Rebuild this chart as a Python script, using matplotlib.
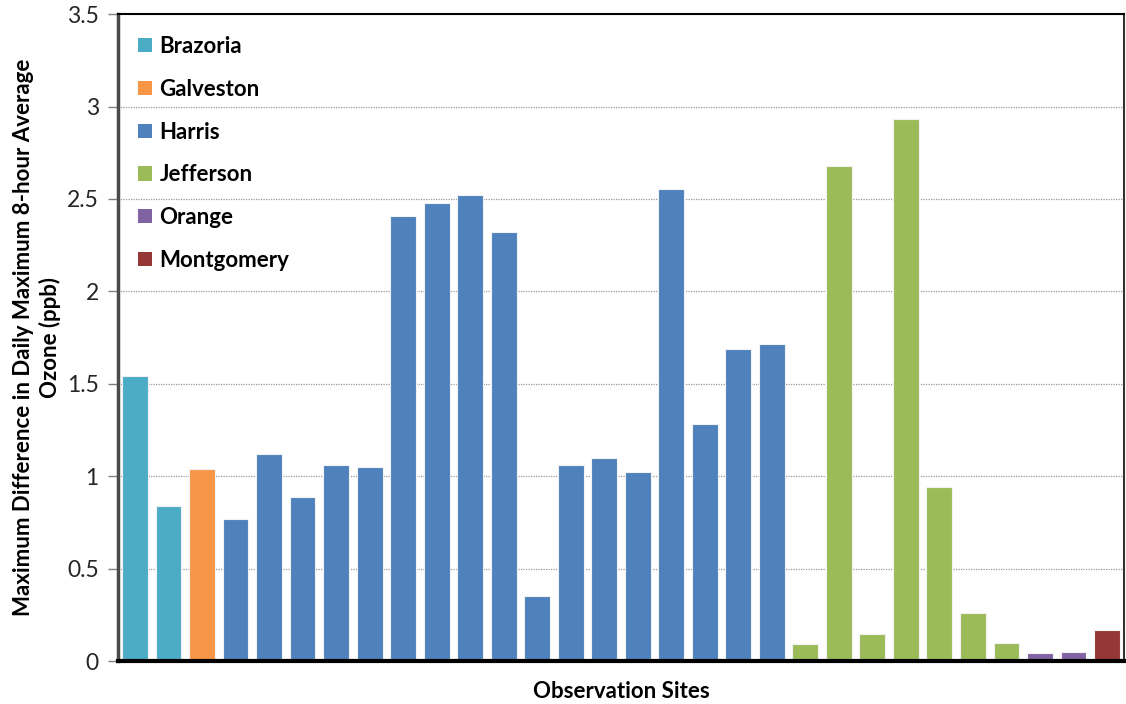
import matplotlib
matplotlib.use("Agg")
import matplotlib.pyplot as plt
from matplotlib.patches import Patch

# Maximum difference in daily maximum 8-hour average ozone (ppb) per site, grouped by county
counties = ["Brazoria", "Galveston", "Harris", "Jefferson", "Orange", "Montgomery"]
brazoria = [1.54, 0.84]
galveston = [1.04]
harris = [0.77, 1.12, 0.89, 1.06, 1.05, 2.41, 2.48, 2.52, 2.32, 0.35,
          1.06, 1.10, 1.025, 2.555, 1.28, 1.69, 1.715]
jefferson = [0.09, 2.68, 0.145, 2.935, 0.94, 0.262, 0.096]
orange = [0.042, 0.048]
montgomery = [0.17]
yticks = [0, 0.5, 1, 1.5, 2, 2.5, 3, 3.5]
ytick_labels = ["0", "0.5", "1", "1.5", "2", "2.5", "3", "3.5"]

colors = {
    "Brazoria": "#4BACC6",
    "Galveston": "#F79646",
    "Harris": "#4F81BD",
    "Jefferson": "#9BBB59",
    "Orange": "#8064A2",
    "Montgomery": "#953735",
}
groups = [brazoria, galveston, harris, jefferson, orange, montgomery]

plt.rcParams["font.family"] = ["Lato", "DejaVu Sans"]

fig = plt.figure(figsize=(11.26, 7.04), dpi=100)
ax = fig.add_axes([0.105, 0.061, 0.893, 0.919])

pos = 0
for name, vals in zip(counties, groups):
    xs = list(range(pos, pos + len(vals)))
    ax.bar(xs, vals, width=0.77, color=colors[name], edgecolor="#F2F2F2",
           linewidth=0.8, zorder=2)
    pos += len(vals)

ax.set_xlim(-0.5, pos - 0.5)
ax.set_ylim(0, 3.5)
ax.set_yticks(yticks)
ax.set_yticklabels(ytick_labels)
ax.set_xticks([])
ax.tick_params(axis="y", direction="out", length=7, width=1, color="#808080",
               labelsize=16.5, labelcolor="#262626", pad=7)

for y in yticks[1:-1]:
    ax.axhline(y, color="#9A9A9A", linestyle=(0, (1, 1)), linewidth=0.9, zorder=1)

ax.spines["left"].set_color("#4A4A4A")
ax.spines["left"].set_linewidth(2.5)
ax.spines["bottom"].set_color("black")
ax.spines["bottom"].set_linewidth(3)
ax.spines["bottom"].set_zorder(3)
ax.spines["top"].set_color("black")
ax.spines["top"].set_linewidth(1.5)
ax.spines["right"].set_color("#333333")
ax.spines["right"].set_linewidth(1.5)

ax.set_ylabel("Maximum Difference in Daily Maximum 8-hour Average\nOzone (ppb)",
              fontsize=16, fontweight="bold", color="black", labelpad=4,
              linespacing=1.3)
ax.set_xlabel("Observation Sites", fontsize=16, fontweight="bold", color="black",
              labelpad=14)

handles = [Patch(facecolor=colors[c], edgecolor="none") for c in counties]
leg = ax.legend(handles, counties, loc="upper left", bbox_to_anchor=(0.0, 0.997),
                frameon=False, handlelength=0.6, handleheight=0.6,
                handletextpad=0.35, labelspacing=0.98, borderpad=0.4,
                prop={"weight": "bold", "size": 16})

fig.savefig("out.png", dpi=100)
